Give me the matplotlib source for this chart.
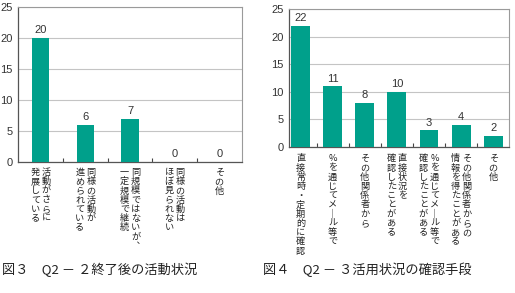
import matplotlib.pyplot as plt

# data
cats3 = [["活動がさらに", "発展している"],
         ["同様の活動が", "進められている"],
         ["同規模ではないが︑", "一定規模で継続"],
         ["同様の活動は", "ほぼ見られない"],
         ["その他"]]
vals3 = [20, 6, 7, 0, 0]

cats4 = [["直接常時・定期的に確認"],
         ["%を通じてメ｜ル等で"],
         ["その他関係者から"],
         ["直接状況を", "確認したことがある"],
         ["%を通じてメ｜ル等で", "確認したことがある"],
         ["その他関係者からの", "情報を得たことがある"],
         ["その他"]]
vals4 = [22, 11, 8, 10, 3, 4, 2]

yticks = [0, 5, 10, 15, 20, 25]
title3 = "図３　Q2 － ２終了後の活動状況"
title4 = "図４　Q2 － ３活用状況の確認手段"

teal = "#00a08b"
jp = ["Noto Sans CJK JP", "DejaVu Sans"]

W, H = 515, 293
fig = plt.figure(figsize=(W / 100, H / 100), dpi=100)


def px_axes(x0, x1, ytop, ybot):
    return fig.add_axes([x0 / W, 1 - ybot / H, (x1 - x0) / W, (ybot - ytop) / H])


def vlabel(ax, x, lines, y0_pts):
    # tategaki: first line is the rightmost column
    n = len(lines)
    step = 8.0  # points between columns
    for j, line in enumerate(lines):
        dx = ((n - 1) / 2 - j) * step
        for i, ch in enumerate(line):
            ax.annotate(ch, xy=(x, 0), xycoords=("data", "axes fraction"),
                        xytext=(dx, y0_pts - i * 6.65), textcoords="offset points",
                        ha="center", va="center", fontsize=6.6, family=jp,
                        color="#222222", annotation_clip=False)


def draw(ax, vals, cats, xlim, width, label_off):
    xs = list(range(len(vals)))
    ax.bar(xs, vals, width=width, color=teal, zorder=3)
    ax.set_xlim(*xlim)
    ax.set_ylim(0, 25)
    ax.set_yticks(yticks)
    ax.set_yticklabels([str(v) for v in yticks], family="Liberation Sans",
                       fontsize=8, color="#333333")
    ax.tick_params(axis="y", length=0, pad=4)
    ax.set_xticks([])
    ax.set_xticks([x + 0.5 for x in xs[:-1]], minor=True)
    ax.tick_params(axis="x", which="minor", direction="in", length=3,
                   color="#444444", width=0.8)
    ax.grid(axis="y", color="#c4c4c4", linewidth=0.8, zorder=0)
    for s in ["top", "right"]:
        ax.spines[s].set_color("#9a9a9a")
        ax.spines[s].set_linewidth(0.8)
    for s in ["left", "bottom"]:
        ax.spines[s].set_color("#555555")
        ax.spines[s].set_linewidth(0.9)
    for x, v in zip(xs, vals):
        ax.annotate(str(v), xy=(x, v), xytext=(0, 2), textcoords="offset points",
                    ha="center", va="bottom", fontsize=8,
                    family="Liberation Sans", color="#333333")
    for x, c in zip(xs, cats):
        vlabel(ax, x, c, label_off)


ax1 = px_axes(18.5, 241.5, 7, 162)
draw(ax1, vals3, cats3, (-0.5, 4.5), 0.39, -7.5)

ax2 = px_axes(289.3, 509.3, 9, 147)
draw(ax2, vals4, cats4, (-0.35, 6.5), 0.59, -8.5)

fig.text(2 / W, 1 - 270 / H, title3, family=jp, fontsize=9.5,
         ha="left", va="center", color="#222222")
fig.text(263 / W, 1 - 270 / H, title4, family=jp, fontsize=9.5,
         ha="left", va="center", color="#222222")

fig.savefig("out.png", dpi=100)
